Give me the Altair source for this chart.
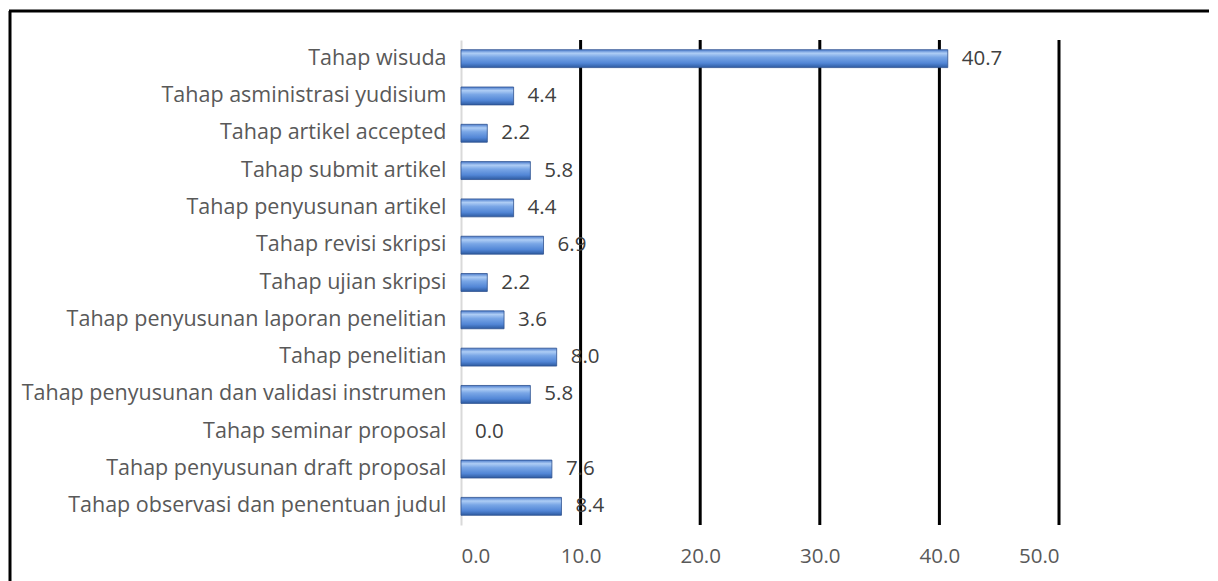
import altair as alt
import pandas as pd

categories = [
    "Tahap wisuda",
    "Tahap asministrasi yudisium",
    "Tahap artikel accepted",
    "Tahap submit artikel",
    "Tahap penyusunan artikel",
    "Tahap revisi skripsi",
    "Tahap ujian skripsi",
    "Tahap penyusunan laporan penelitian",
    "Tahap penelitian",
    "Tahap penyusunan dan validasi instrumen",
    "Tahap seminar proposal",
    "Tahap penyusunan draft proposal",
    "Tahap observasi dan penentuan judul",
]
values = [40.7, 4.4, 2.2, 5.8, 4.4, 6.9, 2.2, 3.6, 8.0, 5.8, 0.0, 7.6, 8.4]
x_ticks = [0, 10, 20, 30, 40, 50]

df = pd.DataFrame({"cat": categories, "val": values})
df["label"] = df["val"].map(lambda v: f"{v:.1f}")

FONT = "Open Sans"
FS = 20.5
FS_CAT = 21.5
W, H = 598, 485

grad = alt.LinearGradient(
    gradient="linear",
    x1=0, y1=0, x2=0, y2=1,
    stops=[
        alt.GradientStop(color="#4a7bcc", offset=0),
        alt.GradientStop(color="#aecdf5", offset=0.2),
        alt.GradientStop(color="#79a6e6", offset=0.42),
        alt.GradientStop(color="#5286d6", offset=0.75),
        alt.GradientStop(color="#2d5aa0", offset=1),
    ],
)

xscale = alt.Scale(domain=[0, 50], nice=False)
yscale = alt.Scale(paddingInner=0.52, paddingOuter=0.26)

grid = alt.Chart(pd.DataFrame({"g": [10, 20, 30, 40, 50]})).mark_rule(
    color="black", strokeWidth=3
).encode(x=alt.X("g:Q", scale=xscale))

bars = alt.Chart(df).mark_bar(
    color=grad, stroke="#2f528f", strokeWidth=0.8
).encode(
    x=alt.X("val:Q", scale=xscale, title=None,
            axis=alt.Axis(values=x_ticks, format=".1f", grid=False, domain=False,
                          ticks=False, labelPadding=21, labelFontSize=FS,
                          labelFont=FONT, labelColor="#595959")),
    y=alt.Y("cat:N", sort=categories, title=None, scale=yscale,
            axis=alt.Axis(domain=True, domainColor="#d9d9d9", domainWidth=2,
                          ticks=False, labelPadding=15, labelFontSize=FS_CAT,
                          labelFont=FONT, labelColor="#595959", labelLimit=0)),
    strokeOpacity=alt.condition("datum.val > 0", alt.value(1), alt.value(0)),
)

text = alt.Chart(df).mark_text(
    align="left", baseline="middle", dx=14, fontSize=FS, font=FONT, color="#404040"
).encode(
    x=alt.X("val:Q", scale=xscale),
    y=alt.Y("cat:N", sort=categories, scale=yscale),
    text="label:N",
)

border_left = alt.Chart(pd.DataFrame({"a": [0]})).mark_rule(
    color="black", strokeWidth=3
).encode(x=alt.value(-451), y=alt.value(-29), y2=alt.value(700))

border_top = alt.Chart(pd.DataFrame({"a": [0]})).mark_rule(
    color="black", strokeWidth=3
).encode(x=alt.value(-452), x2=alt.value(900), y=alt.value(-29))

chart = alt.layer(grid, bars, text, border_left, border_top).properties(
    width=W, height=H,
    autosize=alt.AutoSizeParams(type="none"),
    padding={"left": 453, "top": 32, "right": 150, "bottom": 60},
).configure(background="white").configure_view(stroke=None)

chart.save("out.html", embed_options={"renderer": "svg", "actions": False})
